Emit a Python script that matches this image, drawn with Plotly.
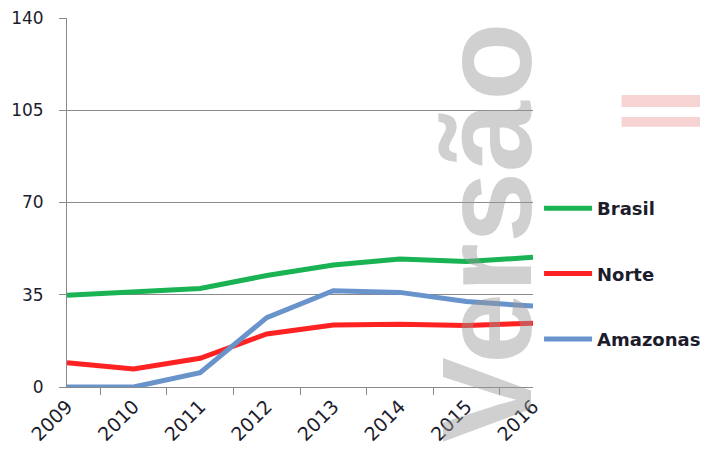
import plotly.graph_objects as go

# data
years = ["2009", "2010", "2011", "2012", "2013", "2014", "2015", "2016"]
brasil = [34.8, 36.3, 37.4, 42.3, 46.3, 48.6, 47.6, 49.2]
norte = [9.2, 6.8, 10.9, 20.1, 23.5, 23.8, 23.3, 24.2]
amazonas = [0.0, 0.0, 5.4, 26.3, 36.5, 35.9, 32.4, 30.7]
y_ticks = [0, 35, 70, 105, 140]

series = [
    ("Brasil", brasil, "#19b354"),
    ("Norte", norte, "#ff2222"),
    ("Amazonas", amazonas, "#6893cb"),
]

fig = go.Figure()
for name, vals, color in series:
    fig.add_trace(go.Scatter(
        x=years, y=vals, name=name, mode="lines",
        line=dict(color=color, width=5),
        legendgroup=name,
    ))

# page is drawn with an 8px body offset, so size the figure to fit
fig.update_layout(
    width=700, height=449,
    margin=dict(l=59, r=175, t=10, b=70, autoexpand=False),
    plot_bgcolor="white",
    paper_bgcolor="white",
    showlegend=True,
    legend=dict(
        x=1.013, y=0.534, xanchor="left", yanchor="top",
        font=dict(family="DejaVu Sans", size=18, color="#1c1c2c", weight="bold"),
        tracegroupgap=39, itemwidth=48,
        bgcolor="rgba(0,0,0,0)",
    ),
)

fig.update_xaxes(
    type="category", automargin=False,
    showline=True, linecolor="#8a8a8a", linewidth=1,
    ticks="outside", tickson="boundaries", ticklen=7, tickcolor="#8a8a8a",
    tickangle=-45,
    tickfont=dict(family="DejaVu Sans", size=19, color="#1c1c2c"),
    showgrid=False,
)
fig.update_yaxes(
    range=[0, 140], tickvals=y_ticks, automargin=False,
    showline=True, linecolor="#8a8a8a", linewidth=1,
    ticks="outside", ticklen=7, tickcolor="#8a8a8a",
    ticklabelstandoff=12, ticklabeloverflow="allow",
    tickfont=dict(family="DejaVu Sans", size=17, color="#1c1c2c"),
    showgrid=True, gridcolor="#8a8a8a", gridwidth=1,
    zeroline=False,
)

# "Versão" watermark over the chart
fig.add_annotation(
    text="Versão", xref="paper", yref="paper",
    x=0.9, y=0.42, xanchor="center", yanchor="middle",
    textangle=-90, showarrow=False,
    font=dict(family="Liberation Sans", size=128, weight="bold",
              color="rgba(150,150,150,0.45)"),
)

# faint pink marks at the right edge
for y0, y1 in [(0.759, 0.791), (0.705, 0.732)]:
    fig.add_shape(type="rect", xref="paper", yref="paper",
                  x0=1.19, x1=1.4, y0=y0, y1=y1,
                  fillcolor="rgba(240,170,170,0.5)", line_width=0)

fig.write_html("out.html")
